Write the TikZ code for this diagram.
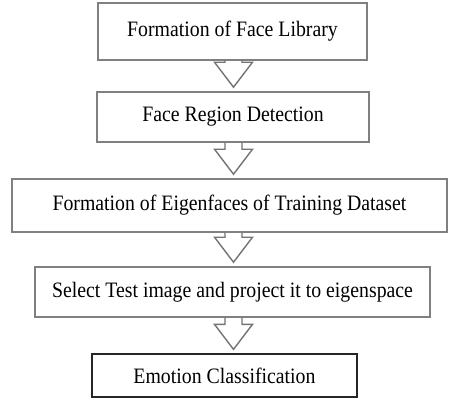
\documentclass[tikz,border=0pt]{standalone}
\usepackage{fontspec}
\setmainfont{Liberation Serif}
\newfontfamily\narrowserif[FakeStretch=0.9]{Liberation Serif}
\usetikzlibrary{calc}
\begin{document}
\begin{tikzpicture}[x=1pt,y=-1pt,
  box/.style={draw=black!50, line width=1.6pt, rectangle, inner sep=0pt,
    font=\narrowserif\fontsize{22}{26}\selectfont, text=black},
  lastbox/.style={box, draw=black!85, line width=1.3pt},
  arr/.style={draw=black!55, line width=1.4pt, line join=miter}]
\useasboundingbox (0,0) rectangle (449,400);
\fill[white] (0,0) rectangle (449,400);
\coordinate (ax) at (233.5,0);
\node[box, minimum width=269pt, minimum height=57pt] (b1) at (232.5,31.5) {Formation of Face Library};
\node[box, minimum width=272pt, minimum height=50pt] (b2) at (233,117) {Face Region Detection};
\node[box, minimum width=435pt, minimum height=53pt] (b3) at (229.5,205.5) {Formation of Eigenfaces of Training Dataset};
\node[box, minimum width=395pt, minimum height=50pt] (b4) at (232.5,292) {Select Test image and project it to eigenspace};
\node[lastbox, minimum width=265pt, minimum height=43pt] (b5) at (224.5,375.5) {Emotion Classification};
\foreach \a/\b in {b1/b2,b2/b3,b3/b4,b4/b5}{
  \draw[arr] let \p1=(ax|-\a.south), \p2=(ax|-\b.north) in
    (\x1-8.5pt,\y1) -- (\x1-8.5pt,\y2+29pt) -- (\x1-19pt,\y2+29pt) -- (\x1,\y2+4pt)
    -- (\x1+19pt,\y2+29pt) -- (\x1+8.5pt,\y2+29pt) -- (\x1+8.5pt,\y1);
}
\end{tikzpicture}
\end{document}
